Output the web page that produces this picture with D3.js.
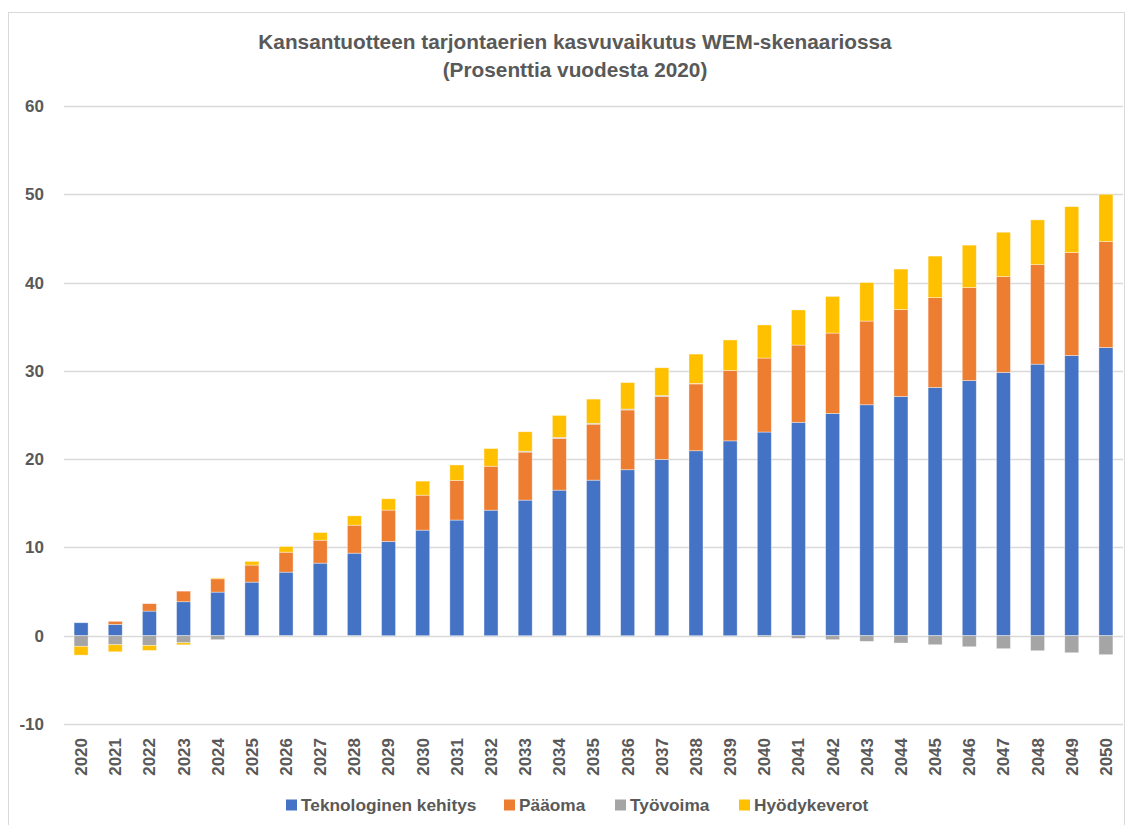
<!DOCTYPE html>
<html>
<head>
<meta charset="utf-8">
<script src="https://cdn.jsdelivr.net/npm/d3@7"></script>
<style>
  body { margin: 0; background: #fff; }
  text { font-family: "Liberation Sans", Arial, sans-serif; }
</style>
</head>
<body>
<div class="chart"></div>
<script>
var years = d3.range(2020, 2051).map(String);

var teknologia = [1.47, 1.28, 2.79, 3.85, 4.94, 6.07, 7.2, 8.22, 9.35, 10.68,
  11.96, 13.1, 14.22, 15.36, 16.49, 17.62, 18.8, 19.97, 20.95, 22.07,
  23.07, 24.17, 25.18, 26.16, 27.1, 28.12, 28.9, 29.82, 30.76, 31.74, 32.65];
var paaoma = [0, 0.35, 0.84, 1.2, 1.51, 1.93, 2.26, 2.6, 3.17, 3.55,
  3.96, 4.5, 4.98, 5.44, 5.85, 6.34, 6.77, 7.13, 7.57, 7.98,
  8.38, 8.75, 9.1, 9.48, 9.85, 10.18, 10.54, 10.88, 11.28, 11.66, 12.0];
var tyovoima = [-1.2, -1.02, -1.1, -0.8, -0.45, -0.05, -0.08, -0.1, -0.05, 0,
  0, 0, 0, 0.1, 0.12, 0.1, 0.1, 0.1, 0.05, 0,
  -0.15, -0.3, -0.45, -0.64, -0.83, -1.02, -1.25, -1.47, -1.7, -1.93, -2.15];
var hyodykeverot = [-1.0, -0.8, -0.57, -0.23, 0.1, 0.42, 0.64, 0.87, 1.06, 1.28,
  1.59, 1.74, 2.0, 2.2, 2.49, 2.74, 3.0, 3.15, 3.33, 3.45,
  3.75, 3.98, 4.15, 4.36, 4.58, 4.7, 4.8, 5.0, 5.06, 5.2, 5.35];

var seriesNames = ["Teknologinen kehitys", "Pääoma", "Työvoima", "Hyödykeverot"];
var seriesValues = [teknologia, paaoma, tyovoima, hyodykeverot];
var colors = ["#4472C4", "#ED7D31", "#A5A5A5", "#FFC000"];
var yTicks = [-10, 0, 10, 20, 30, 40, 50, 60];

var svgWidth = 1126;
var svgHeight = 825;

var svg = d3.select(".chart")
  .append("svg")
  .attr("width", svgWidth)
  .attr("height", svgHeight);

// chart border
svg.append("rect")
  .attr("x", 8.5).attr("y", 12.5)
  .attr("width", 1116).attr("height", 830)
  .attr("fill", "none")
  .attr("stroke", "#d9d9d9");

// build rows for the stack
var rows = years.map(function(y, i) {
  var row = { year: y };
  seriesNames.forEach(function(name, k) { row[name] = seriesValues[k][i]; });
  return row;
});

var stack = d3.stack()
  .keys(seriesNames)
  .offset(d3.stackOffsetDiverging);
var stacked = stack(rows);

var x = d3.scaleBand()
  .domain(years)
  .range([64, 1123])
  .paddingInner(0.59)
  .paddingOuter(0.295);

var y = d3.scaleLinear()
  .domain([-10, 60])
  .range([724, 106]);

// gridlines
svg.append("g")
  .selectAll("line")
  .data(yTicks)
  .enter()
  .append("line")
  .attr("x1", 64)
  .attr("x2", 1123)
  .attr("y1", d => Math.round(y(d)) + 0.5)
  .attr("y2", d => Math.round(y(d)) + 0.5)
  .attr("stroke", "#d9d9d9")
  .attr("stroke-width", 1.5);

// y tick labels
svg.append("g")
  .selectAll("text")
  .data(yTicks)
  .enter()
  .append("text")
  .attr("x", 44)
  .attr("y", d => y(d))
  .attr("dy", "0.35em")
  .attr("text-anchor", "end")
  .attr("font-size", "17px")
  .attr("font-weight", "bold")
  .attr("fill", "#595959")
  .text(d => d);

// bars
svg.append("g")
  .selectAll("g")
  .data(stacked)
  .enter()
  .append("g")
  .attr("fill", (d, i) => colors[i])
  .selectAll("rect")
  .data(d => d)
  .enter()
  .append("rect")
  .attr("x", d => x(d.data.year))
  .attr("width", x.bandwidth())
  .attr("y", d => y(Math.max(d[0], d[1])))
  .attr("height", d => Math.abs(y(d[0]) - y(d[1])))
  .attr("stroke", "#ffffff")
  .attr("stroke-opacity", 0.5)
  .attr("stroke-width", 0.75);

// x labels (rotated)
svg.append("g")
  .selectAll("text")
  .data(years)
  .enter()
  .append("text")
  .attr("transform", d => `translate(${x(d) + x.bandwidth() / 2}, 738) rotate(-90)`)
  .attr("dy", "0.35em")
  .attr("text-anchor", "end")
  .attr("font-size", "17px")
  .attr("font-weight", "bold")
  .attr("fill", "#595959")
  .text(d => d);

// title
var title = svg.append("text")
  .attr("x", 575)
  .attr("text-anchor", "middle")
  .attr("font-size", "20.8px")
  .attr("font-weight", "bold")
  .attr("fill", "#595959");
title.append("tspan").attr("x", 575).attr("y", 49).text("Kansantuotteen tarjontaerien kasvuvaikutus WEM-skenaariossa");
title.append("tspan").attr("x", 575).attr("y", 77).text("(Prosenttia vuodesta 2020)");

// legend
var legendX = [286, 504, 615, 739];
var legend = svg.append("g")
  .selectAll("g")
  .data(seriesNames)
  .enter()
  .append("g")
  .attr("transform", (d, i) => `translate(${legendX[i]}, 805)`);

legend.append("rect")
  .attr("x", 0).attr("y", -5.5)
  .attr("width", 11).attr("height", 11)
  .attr("fill", (d, i) => colors[i]);

legend.append("text")
  .attr("x", 15)
  .attr("dy", "0.35em")
  .attr("font-size", "17.3px")
  .attr("font-weight", "bold")
  .attr("fill", "#595959")
  .text(d => d);
</script>
</body>
</html>
